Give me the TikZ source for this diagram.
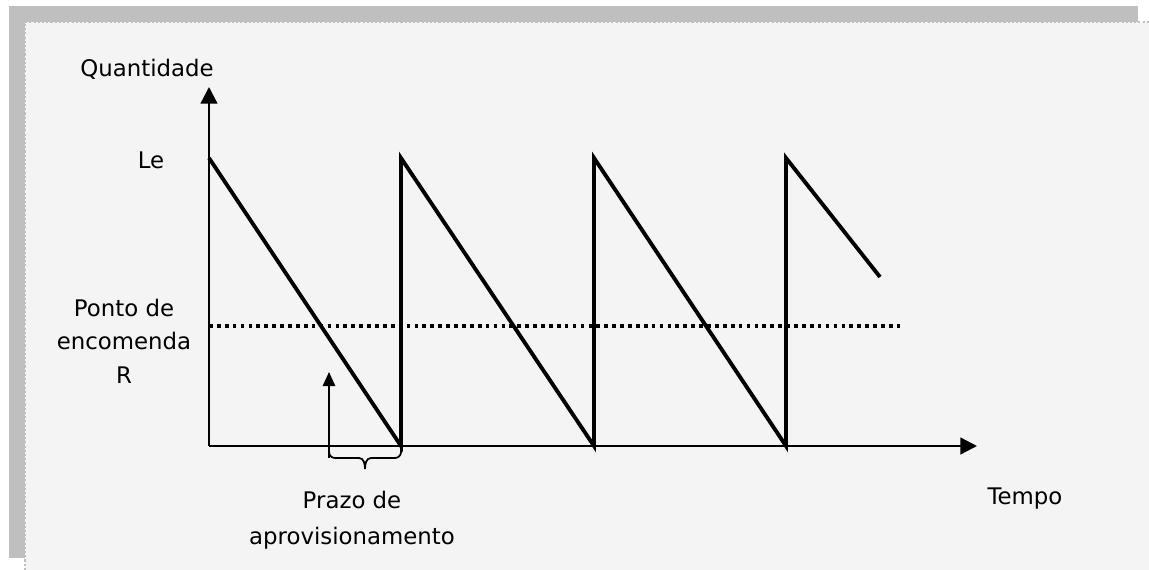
\documentclass[tikz,border=0pt]{standalone}
\usepackage{fontspec}
\setmainfont{DejaVu Sans}
\usepackage{tikz}
\usetikzlibrary{arrows.meta}
\usepackage{xcolor}
\definecolor{bandgray}{HTML}{BFBFBF}
\definecolor{panelgray}{HTML}{F4F4F4}

\tikzset{
  axis/.style={line width=1.3pt, -{Triangle[length=9.5pt,width=9.5pt]}},
  stock/.style={line width=2.2pt, line join=miter},
  label/.style={font=\fontsize{13}{19}\selectfont, text=black, align=center, inner sep=0pt}
}

\begin{document}
\begin{tikzpicture}[x=0.02cm, y=-0.02cm]
      \useasboundingbox (0,0) rectangle (1149,570);
      % page frame
      \fill[white] (0,0) rectangle (1149,570);
      \fill[bandgray] (9,6) rectangle (1138,22);
      \fill[bandgray] (9,6) rectangle (25,558);
      \fill[panelgray] (25,22) rectangle (1149,570);
      \draw[bandgray, line width=1pt, dash pattern=on 1.2pt off 1.2pt]
        (25,570) -- (25,22) -- (1149,22);

      % axes
      \coordinate (origin) at (209,446);
      \coordinate (ytop) at (209,87);
      \coordinate (xend) at (977,446);
      \draw[axis] (origin) -- (ytop);
      \draw[axis] (origin) -- (xend);

      % stock level
      \draw[stock] (209,158) -- (401,446) -- (401,158) -- (594,446)
        -- (594,158) -- (786,446) -- (786,158) -- (880,277);

      % reorder point
      \draw[line width=2.1pt, dash pattern=on 2.1pt off 2.4pt] (209,326) -- (900,326);

      % lead time
      \coordinate (leadfoot) at (329,458);
      \coordinate (leadtip) at (329,372);
      \draw[line width=1.2pt, -{Triangle[length=8pt,width=7pt]}] (leadfoot) -- (leadtip);
      \draw[line width=1pt] (329,452) to[out=-90,in=180] (335,458) -- (359,458)
        to[out=0,in=90] (365,469);
      \draw[line width=1pt] (401,446) -- (401,452) to[out=-90,in=0] (395,458) -- (371,458)
        to[out=180,in=90] (365,469);

      % labels
      \node[label] (qty) at (147,69) {Quantidade};
      \node[label] (le) at (151,160) {Le};
      \node[label] (reorder) at (124,341) {Ponto de\\encomenda\\R};
      \node[label, font=\fontsize{13}{20.5}\selectfont] (lead) at (352,520) {Prazo de\\aprovisionamento};
      \node[label] (time) at (1025,499) {Tempo};
    \end{tikzpicture}
\end{document}
